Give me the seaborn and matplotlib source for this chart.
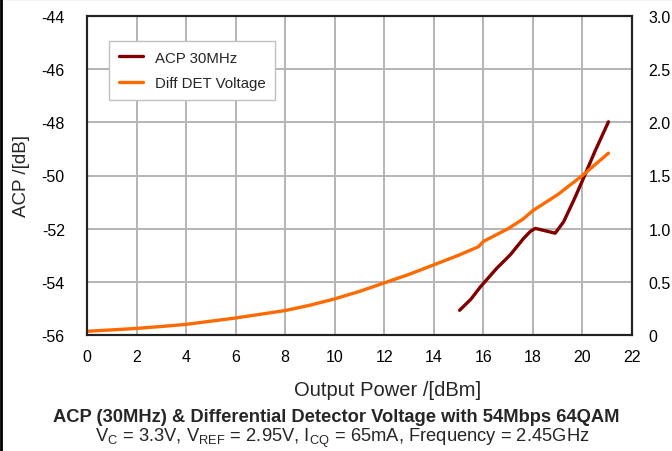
import matplotlib
matplotlib.use("Agg")
import matplotlib.pyplot as plt
import seaborn as sns
import pandas as pd
from matplotlib.lines import Line2D

# ---- data ----
acp_x = [15.04, 15.5, 15.88, 16.55, 17.09, 17.63, 17.9, 18.1, 18.5, 18.9, 19.24, 19.65, 20.0, 20.5, 21.05]
acp_y = [-55.07, -54.65, -54.19, -53.48, -52.98, -52.36, -52.1, -51.99, -52.08, -52.17, -51.74, -50.93, -50.19, -49.1, -47.98]

det_x = [0, 1, 2, 3, 4, 5, 6, 7, 8, 9, 10, 11, 12, 13, 14, 15, 15.8, 16, 17, 17.6, 18, 19, 20, 21.05]
det_y = [0.035, 0.048, 0.062, 0.08, 0.10, 0.13, 0.16, 0.195, 0.23, 0.28, 0.34, 0.41, 0.49, 0.57,
         0.66, 0.75, 0.83, 0.88, 1.00, 1.09, 1.17, 1.32, 1.50, 1.71]

x_ticks = list(range(0, 23, 2))
left_ticks = [-56, -54, -52, -50, -48, -46, -44]
right_ticks = [0, 0.5, 1.0, 1.5, 2.0, 2.5, 3.0]
right_labels = ["0", "0.5", "1.0", "1.5", "2.0", "2.5", "3.0"]

title_text = "ACP (30MHz) & Differential Detector Voltage with 54Mbps 64QAM"
subtitle_text = (r"V$_\mathregular{C}$ = 3.3V, V$_\mathregular{REF}$ = 2.95V, "
                 r"I$_\mathregular{CQ}$ = 65mA, Frequency = 2.45GHz")

acp_color = "#800000"
det_color = "#FF6A00"

sns.set_style("white")
plt.rcParams["font.family"] = ["Liberation Sans", "DejaVu Sans"]
plt.rcParams["mathtext.fontset"] = "custom"
plt.rcParams["mathtext.rm"] = "Liberation Sans"

fig = plt.figure(figsize=(6.72, 4.52), dpi=100)
ax = fig.add_axes([87/672, 1-336/452, 545/672, 319/452])
ax2 = ax.twinx()

df_acp = pd.DataFrame({"x": acp_x, "y": acp_y})
df_det = pd.DataFrame({"x": det_x, "y": det_y})

sns.lineplot(data=df_acp, x="x", y="y", ax=ax, color=acp_color, lw=2.4, sort=False)
sns.lineplot(data=df_det, x="x", y="y", ax=ax2, color=det_color, lw=2.4, sort=False)

ax.set_xlim(0, 22)
ax.set_ylim(-56, -44)
ax2.set_ylim(0, 3.0)
ax.set_xticks(x_ticks)
ax.set_yticks(left_ticks)
ax2.set_yticks(right_ticks)
ax2.set_yticklabels(right_labels)
ax.set_xticklabels([str(t) for t in x_ticks])
ax.set_yticklabels([str(t) for t in left_ticks])

ax.grid(True, color="#b4b4b8", lw=1.4)
ax2.grid(False)
ax.set_axisbelow(True)
for a in (ax, ax2):
    a.tick_params(length=0, labelsize=11.5, colors="black")
    for s in a.spines.values():
        s.set_color("#222222")
        s.set_linewidth(1.5)
ax.tick_params(axis="x", pad=10)
ax.tick_params(axis="y", pad=16)
ax2.tick_params(axis="y", pad=12)

ax.set_xlabel("Output Power /[dBm]", fontsize=14.5)
ax.set_ylabel("ACP /[dB]", fontsize=13.5)
ax.xaxis.set_label_coords((388-87)/545, (336-390)/319)
ax.xaxis.label.set_va("center")
ax.yaxis.set_label_coords((21-87)/545, 0.5)
ax.yaxis.label.set_va("center")
ax2.set_ylabel("")

handles = [Line2D([0], [0], color=acp_color, lw=2.4), Line2D([0], [0], color=det_color, lw=2.4)]
leg = ax.legend(handles, ["ACP 30MHz", "Diff DET Voltage"], loc="upper left",
                bbox_to_anchor=(0.04, 0.922), borderaxespad=0, fontsize=10.8, fancybox=False,
                framealpha=1, edgecolor="#c0c0c0", handlelength=1.6,
                borderpad=0.65, labelspacing=0.78)
leg.get_frame().set_linewidth(1.0)
if ax2.get_legend():
    ax2.get_legend().remove()

fig.text(336/672, 1-418/452, title_text, ha="center", va="center", fontsize=13.2, fontweight="bold")
fig.text(342/672, 1-438/452, subtitle_text, ha="center", va="center", fontsize=13.2)

# outer frame lines (left/top)
fig.add_artist(Line2D([0.002, 0.002], [0, 1], transform=fig.transFigure, color="black", lw=2))
fig.add_artist(Line2D([0, 1], [0.999, 0.999], transform=fig.transFigure, color="black", lw=1.5))

fig.savefig("out.png", dpi=100)
